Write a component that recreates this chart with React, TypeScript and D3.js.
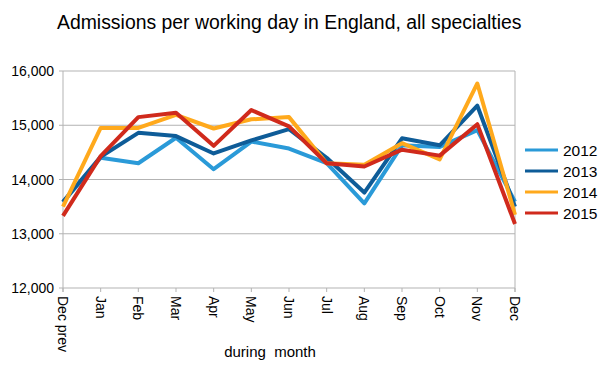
import React from 'react';
import * as d3 from 'd3';

const months = ['Dec prev', 'Jan', 'Feb', 'Mar', 'Apr', 'May', 'Jun', 'Jul', 'Aug', 'Sep', 'Oct', 'Nov', 'Dec'];
const yTicks = [12000, 13000, 14000, 15000, 16000];

const s2012 = [13580, 14400, 14300, 14770, 14190, 14700, 14570, 14300, 13560, 14630, 14600, 14910, 13590];
const s2013 = [13590, 14420, 14860, 14800, 14480, 14720, 14930, 14400, 13760, 14760, 14630, 15360, 13500];
const s2014 = [13500, 14950, 14950, 15190, 14940, 15110, 15150, 14300, 14270, 14670, 14370, 15770, 13350];
const s2015 = [13330, 14430, 15150, 15230, 14620, 15280, 14980, 14300, 14240, 14550, 14440, 15020, 13180];

const seriesNames = ['2012', '2013', '2014', '2015'];
const colors = ['#2a9ad8', '#0e5c98', '#ffa91c', '#d02a1c'];

export default function App() {
  const W = 603, H = 370;
  const left = 63, right = 515, top = 71, bottom = 288;
  const all = [s2012, s2013, s2014, s2015];

  const x = d3.scalePoint<string>().domain(months).range([left, right]);
  const y = d3.scaleLinear().domain([12000, 16000]).range([bottom, top]);
  const line = d3.line<number>().x((_, i) => x(months[i])!).y(d => y(d));
  const fmt = d3.format(',');

  return (
    <svg width={W} height={H} style={{ position: 'absolute', left: 0, top: 0, background: '#fff' }}
      fontFamily="'Liberation Sans', Arial, sans-serif">
      <text x={57} y={29} fontSize={19.4} fill="#000">Admissions per working day in England, all specialties</text>

      {yTicks.map(t => (
        <g key={t}>
          <line x1={left - 4} x2={right} y1={y(t)} y2={y(t)} stroke="#b3b3b3" />
          <text x={54} y={y(t) + 5} textAnchor="end" fontSize={14}>{fmt(t)}</text>
        </g>
      ))}
      <line x1={left} x2={left} y1={top} y2={bottom + 4} stroke="#b3b3b3" />
      <line x1={right} x2={right} y1={top} y2={bottom + 4} stroke="#b3b3b3" />
      {months.map(m => (
        <g key={m}>
          <line x1={x(m)} x2={x(m)} y1={bottom} y2={bottom + 4} stroke="#b3b3b3" />
          <text transform={`translate(${x(m)! - 5},${bottom + 8}) rotate(90)`} fontSize={14}>{m}</text>
        </g>
      ))}
      <text x={270} y={357} textAnchor="middle" fontSize={15} style={{ whiteSpace: 'pre' }}>during  month</text>

      {all.map((s, i) => (
        <path key={i} d={line(s)!} fill="none" stroke={colors[i]} strokeWidth={4} strokeLinejoin="round" />
      ))}

      {seriesNames.map((n, i) => (
        <g key={n}>
          <line x1={525} x2={558} y1={150 + i * 21} y2={150 + i * 21} stroke={colors[i]} strokeWidth={3} />
          <text x={563} y={155.5 + i * 21} fontSize={15.5}>{n}</text>
        </g>
      ))}
    </svg>
  );
}
